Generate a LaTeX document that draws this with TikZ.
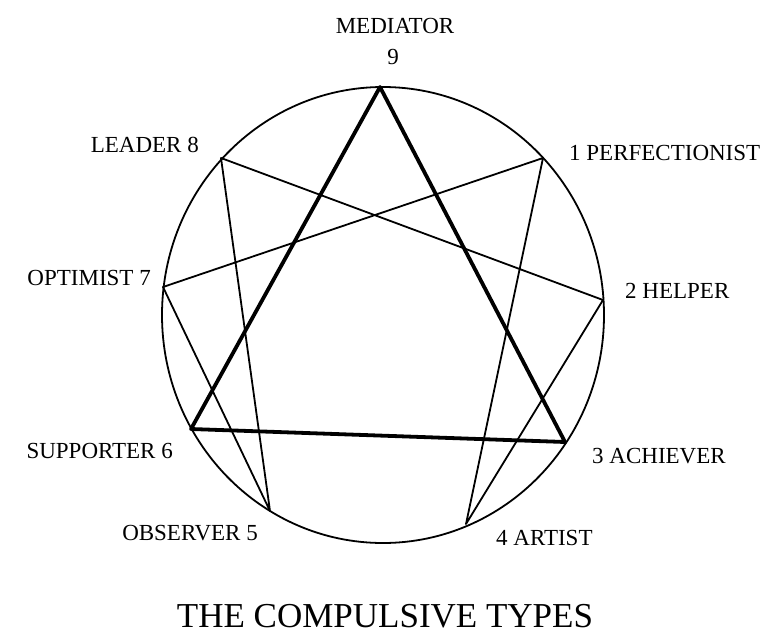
\documentclass[tikz,border=0pt]{standalone}
\usepackage{fontspec}
\setmainfont{Liberation Serif}
\begin{document}
\begin{tikzpicture}[x=1pt,y=-1pt,
  thinline/.style={line width=1.8pt, line join=round, line cap=round},
  thickline/.style={line width=3.8pt, line join=round, line cap=round},
  lbl/.style={font=\fontsize{23}{26}\selectfont, inner sep=0pt},
  ttl/.style={font=\fontsize{35}{40}\selectfont, inner sep=0pt}]
\useasboundingbox (0,0) rectangle (778,634);
% points of the figure
\coordinate (p9) at (380,87);
\coordinate (p1) at (543,158);
\coordinate (p2) at (603,300);
\coordinate (p3) at (565,442);
\coordinate (p4) at (466,524);
\coordinate (p5) at (270,511);
\coordinate (p6) at (191,429);
\coordinate (p7) at (163,287);
\coordinate (p8) at (221,158);
\coordinate (c) at (383,315);
% circle
\draw[thinline] (c) ellipse [x radius=221, y radius=228];
% hexad
\draw[thinline] (p1) -- (p4) -- (p2) -- (p8) -- (p5) -- (p7) -- cycle;
% triangle
\draw[thickline] (p9) -- (p3) -- (p6) -- cycle;
% labels
\node[lbl, anchor=base] (l9a) at (395,34) {MEDIATOR};
\node[lbl, anchor=base] (l9b) at (393,64) {9};
\node[lbl, anchor=base east] (l8) at (199,152) {LEADER 8};
\node[lbl, anchor=base west] (l1) at (569,160) {1 PERFECTIONIST};
\node[lbl, anchor=base east] (l7) at (151,285) {OPTIMIST 7};
\node[lbl, anchor=base west] (l2) at (625,298) {2 HELPER};
\node[lbl, anchor=base east] (l6) at (173,458) {SUPPORTER 6};
\node[lbl, anchor=base west] (l3) at (592,463) {3 ACHIEVER};
\node[lbl, anchor=base east] (l5) at (258,540) {OBSERVER 5};
\node[lbl, anchor=base west] (l4) at (496,545) {4 ARTIST};
\node[ttl, anchor=base] (title) at (385,627) {THE COMPULSIVE TYPES};
\end{tikzpicture}
\end{document}
